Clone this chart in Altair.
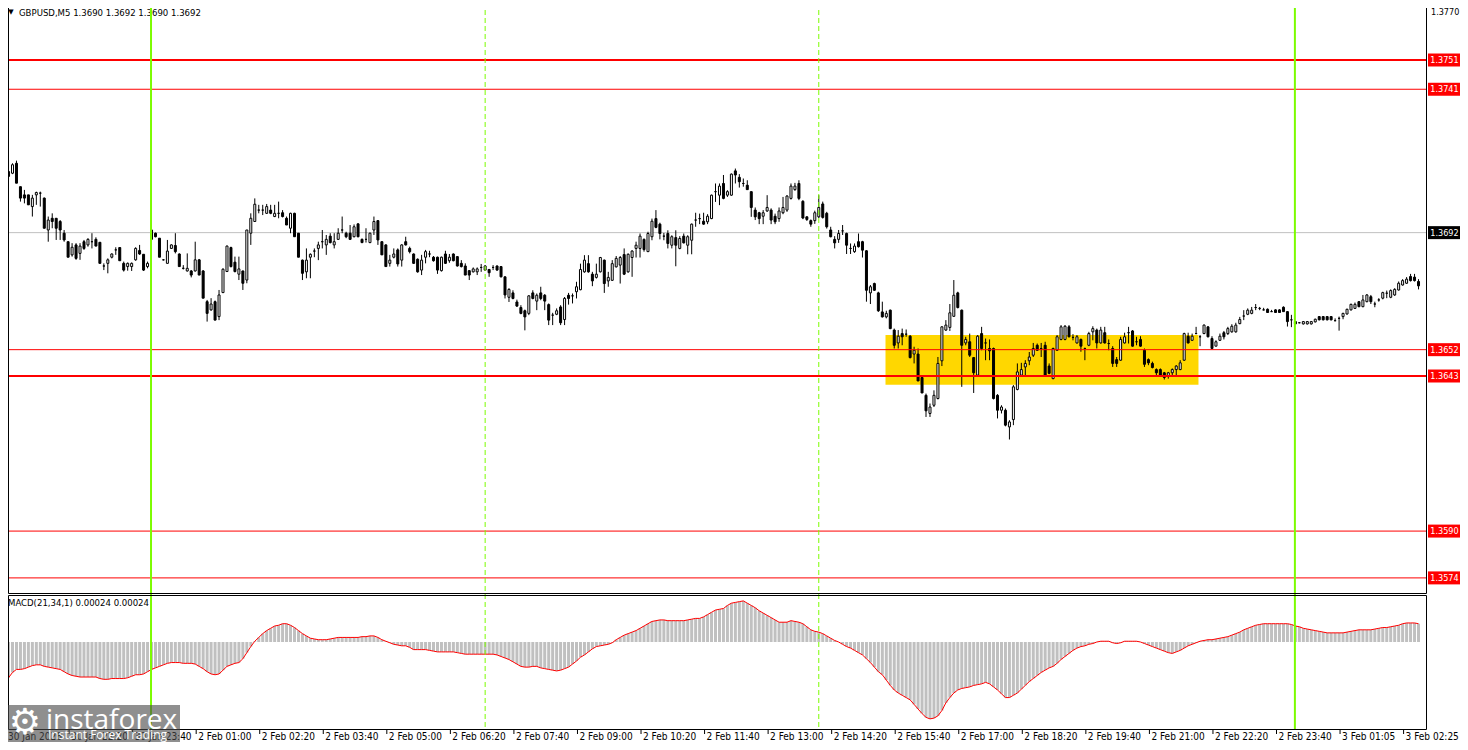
import altair as alt
import pandas as pd

# ---------------- data ----------------
bar_open = [
1.37112,1.37123,1.37157,1.37077,1.37049,1.37049,1.37009,1.37049,1.37055,1.37038,
1.36929,1.36969,1.36969,1.36958,1.36918,1.36889,1.36844,1.36878,1.36849,1.36889,
1.36878,1.36889,1.36897,1.36887,1.36806,1.36815,1.36836,1.36861,1.36869,1.36815,
1.36804,1.36804,1.36827,1.36859,1.36846,1.36804,1.36897,1.36918,1.36901,1.36827,
1.36815,1.36866,1.36876,1.36847,1.36798,1.36789,1.36789,1.36789,1.36827,1.36789,
1.36684,1.36656,1.36684,1.36633,1.36715,1.36787,1.36869,1.36819,1.36778,1.36789,
1.36758,1.36918,1.36958,1.36997,1.36997,1.36986,1.36997,1.36975,1.36986,1.36988,
1.36969,1.36935,1.36986,1.36918,1.36826,1.36786,1.36836,1.36857,1.36866,1.36889,
1.36878,1.36908,1.36878,1.36897,1.36929,1.36918,1.36918,1.36906,1.36950,1.36897,
1.36897,1.36886,1.36929,1.36961,1.36889,1.36878,1.36815,1.36836,1.36861,1.36826,
1.36889,1.36866,1.36847,1.36829,1.36792,1.36836,1.36847,1.36836,1.36836,1.36790,
1.36847,1.36824,1.36847,1.36838,1.36815,1.36806,1.36790,1.36786,1.36786,1.36801,
1.36792,1.36794,1.36801,1.36806,1.36804,1.36769,1.36699,1.36714,1.36683,1.36664,
1.36653,1.36644,1.36714,1.36686,1.36714,1.36706,1.36674,1.36638,1.36641,1.36666,
1.36623,1.36706,1.36704,1.36718,1.36725,1.36786,1.36814,1.36778,1.36767,1.36786,
1.36826,1.36755,1.36757,1.36803,1.36809,1.36845,1.36786,1.36835,1.36866,1.36866,
1.36897,1.36855,1.36906,1.36968,1.36949,1.36908,1.36917,1.36877,1.36903,1.36866,
1.36908,1.36877,1.36894,1.36963,1.36968,1.36959,1.36957,1.36968,1.37060,1.37048,
1.37088,1.37048,1.37048,1.37131,1.37109,1.37088,1.37082,1.37060,1.36997,1.36988,
1.36976,1.36994,1.36997,1.36976,1.36968,1.36988,1.36997,1.37037,1.37067,1.37088,
1.37027,1.36974,1.36961,1.36961,1.36974,1.37018,1.36986,1.36929,1.36897,1.36897,
1.36926,1.36917,1.36866,1.36855,1.36889,1.36889,1.36858,1.36714,1.36746,1.36714,
1.36649,1.36632,1.36655,1.36587,1.36543,1.36575,1.36573,1.36566,1.36505,1.36505,
1.36425,1.36364,1.36302,1.36330,1.36353,1.36482,1.36587,1.36596,1.36634,1.36714,
1.36655,1.36543,1.36547,1.36493,1.36433,1.36575,1.36543,1.36524,1.36524,1.36364,
1.36313,1.36313,1.36256,1.36281,1.36384,1.36433,1.36461,1.36482,1.36501,1.36535,
1.36524,1.36535,1.36464,1.36421,1.36518,1.36555,1.36555,1.36598,1.36562,1.36543,
1.36555,1.36524,1.36535,1.36581,1.36587,1.36543,1.36578,1.36541,1.36524,1.36486,
1.36484,1.36543,1.36578,1.36584,1.36547,1.36555,1.36518,1.36486,1.36473,1.36452,
1.36452,1.36441,1.36430,1.36441,1.36452,1.36452,1.36484,1.36566,1.36552,1.36575,
1.36564,1.36575,1.36598,1.36558,1.36532,1.36552,1.36578,1.36575,1.36581,1.36581,
1.36609,1.36635,1.36641,1.36644,1.36664,1.36661,1.36656,1.36658,1.36650,1.36656,
1.36656,1.36665,1.36650,1.36622,1.36616,1.36612,1.36608,1.36608,1.36608,1.36615,
1.36633,1.36633,1.36633,1.36633,1.36619,1.36627,1.36633,1.36642,1.36656,1.36661,
1.36684,1.36667,1.36684,1.36701,1.36676,1.36690,1.36696,1.36713,1.36699,1.36707,
1.36724,1.36741,1.36747,1.36770,1.36768,1.36753]

bar_high = [
1.37169,1.37157,1.37166,1.37077,1.37066,1.37049,1.37049,1.37060,1.37060,1.37040,
1.36975,1.36986,1.36969,1.36963,1.36929,1.36889,1.36884,1.36884,1.36884,1.36895,
1.36901,1.36918,1.36904,1.36887,1.36815,1.36832,1.36849,1.36870,1.36870,1.36821,
1.36818,1.36818,1.36870,1.36878,1.36846,1.36821,1.36929,1.36920,1.36901,1.36829,
1.36895,1.36880,1.36918,1.36849,1.36809,1.36849,1.36792,1.36889,1.36830,1.36792,
1.36690,1.36696,1.36688,1.36724,1.36798,1.36876,1.36872,1.36838,1.36838,1.36790,
1.36929,1.36986,1.37037,1.37015,1.37015,1.37018,1.37015,1.37015,1.37026,1.36997,
1.36975,1.36988,1.36988,1.36918,1.36828,1.36866,1.36849,1.36866,1.36889,1.36929,
1.36912,1.36918,1.36918,1.36935,1.36975,1.36923,1.36946,1.36948,1.36952,1.36900,
1.36935,1.36920,1.36975,1.36963,1.36890,1.36880,1.36844,1.36866,1.36866,1.36880,
1.36906,1.36872,1.36849,1.36832,1.36844,1.36861,1.36858,1.36840,1.36838,1.36838,
1.36858,1.36847,1.36849,1.36840,1.36826,1.36815,1.36792,1.36801,1.36801,1.36813,
1.36809,1.36796,1.36809,1.36808,1.36806,1.36770,1.36730,1.36723,1.36691,1.36672,
1.36657,1.36706,1.36723,1.36712,1.36735,1.36710,1.36678,1.36646,1.36661,1.36672,
1.36700,1.36714,1.36712,1.36752,1.36814,1.36843,1.36843,1.36786,1.36814,1.36837,
1.36828,1.36786,1.36826,1.36840,1.36840,1.36866,1.36849,1.36860,1.36889,1.36917,
1.36900,1.36923,1.36968,1.36997,1.36954,1.36919,1.36928,1.36911,1.36928,1.36908,
1.36917,1.36911,1.36951,1.36988,1.36985,1.36988,1.36983,1.37050,1.37088,1.37088,
1.37117,1.37065,1.37122,1.37139,1.37120,1.37105,1.37099,1.37060,1.37006,1.36991,
1.36997,1.37048,1.37003,1.36985,1.37006,1.37042,1.37048,1.37088,1.37090,1.37099,
1.37031,1.36976,1.36965,1.36995,1.37048,1.37026,1.36991,1.36940,1.36908,1.36929,
1.36946,1.36920,1.36883,1.36883,1.36917,1.36892,1.36860,1.36741,1.36749,1.36718,
1.36684,1.36653,1.36657,1.36592,1.36587,1.36592,1.36589,1.36570,1.36530,1.36524,
1.36427,1.36370,1.36336,1.36381,1.36495,1.36600,1.36621,1.36676,1.36758,1.36718,
1.36657,1.36564,1.36575,1.36495,1.36570,1.36598,1.36558,1.36555,1.36527,1.36368,
1.36330,1.36319,1.36279,1.36399,1.36473,1.36475,1.36484,1.36512,1.36543,1.36541,
1.36543,1.36547,1.36473,1.36527,1.36570,1.36604,1.36604,1.36604,1.36573,1.36570,
1.36558,1.36527,1.36581,1.36600,1.36592,1.36598,1.36598,1.36555,1.36532,1.36495,
1.36564,1.36578,1.36598,1.36587,1.36564,1.36566,1.36524,1.36490,1.36479,1.36456,
1.36456,1.36444,1.36444,1.36456,1.36467,1.36484,1.36578,1.36578,1.36575,1.36598,
1.36570,1.36606,1.36600,1.36566,1.36552,1.36575,1.36584,1.36598,1.36607,1.36612,
1.36632,1.36655,1.36661,1.36666,1.36676,1.36666,1.36663,1.36661,1.36656,1.36658,
1.36658,1.36668,1.36652,1.36639,1.36618,1.36614,1.36618,1.36618,1.36618,1.36626,
1.36635,1.36635,1.36635,1.36635,1.36627,1.36633,1.36646,1.36660,1.36677,1.36681,
1.36686,1.36707,1.36710,1.36707,1.36684,1.36696,1.36718,1.36722,1.36726,1.36730,
1.36753,1.36761,1.36768,1.36779,1.36779,1.36761]

bar_low = [
1.37100,1.37120,1.37089,1.37026,1.37020,1.37015,1.36975,1.37015,1.37009,1.36935,
1.36889,1.36935,1.36895,1.36895,1.36889,1.36836,1.36838,1.36827,1.36827,1.36861,
1.36872,1.36866,1.36874,1.36815,1.36792,1.36781,1.36832,1.36844,1.36824,1.36787,
1.36790,1.36789,1.36824,1.36844,1.36789,1.36798,1.36889,1.36904,1.36836,1.36825,
1.36815,1.36864,1.36849,1.36804,1.36794,1.36787,1.36767,1.36787,1.36775,1.36696,
1.36616,1.36653,1.36621,1.36621,1.36715,1.36787,1.36801,1.36784,1.36758,1.36724,
1.36747,1.36878,1.36958,1.36986,1.36980,1.36984,1.36983,1.36973,1.36969,1.36972,
1.36946,1.36918,1.36906,1.36836,1.36758,1.36764,1.36764,1.36836,1.36826,1.36866,
1.36844,1.36883,1.36866,1.36895,1.36918,1.36901,1.36895,1.36904,1.36904,1.36884,
1.36886,1.36884,1.36912,1.36878,1.36844,1.36804,1.36804,1.36832,1.36804,1.36804,
1.36876,1.36849,1.36813,1.36783,1.36775,1.36815,1.36836,1.36821,1.36779,1.36787,
1.36813,1.36817,1.36822,1.36804,1.36801,1.36775,1.36758,1.36784,1.36775,1.36786,
1.36790,1.36769,1.36792,1.36790,1.36767,1.36695,1.36683,1.36692,1.36666,1.36641,
1.36586,1.36638,1.36692,1.36655,1.36689,1.36655,1.36604,1.36604,1.36638,1.36604,
1.36604,1.36674,1.36678,1.36695,1.36723,1.36783,1.36783,1.36737,1.36763,1.36784,
1.36714,1.36735,1.36755,1.36801,1.36746,1.36775,1.36783,1.36769,1.36835,1.36835,
1.36855,1.36855,1.36894,1.36935,1.36897,1.36894,1.36866,1.36866,1.36805,1.36863,
1.36883,1.36846,1.36846,1.36940,1.36949,1.36947,1.36949,1.36966,1.37025,1.37014,
1.37034,1.37042,1.37046,1.37088,1.37074,1.37077,1.37067,1.36974,1.36963,1.36949,
1.36949,1.36991,1.36949,1.36949,1.36957,1.36983,1.36991,1.37033,1.37063,1.37031,
1.36966,1.36960,1.36940,1.36950,1.36970,1.36968,1.36934,1.36904,1.36866,1.36885,
1.36912,1.36847,1.36847,1.36851,1.36869,1.36835,1.36684,1.36676,1.36721,1.36649,
1.36630,1.36627,1.36590,1.36524,1.36524,1.36535,1.36564,1.36490,1.36473,1.36413,
1.36372,1.36290,1.36290,1.36324,1.36350,1.36464,1.36584,1.36584,1.36632,1.36661,
1.36393,1.36535,1.36495,1.36372,1.36430,1.36518,1.36484,1.36484,1.36350,1.36285,
1.36302,1.36258,1.36213,1.36262,1.36381,1.36427,1.36430,1.36467,1.36495,1.36516,
1.36495,1.36427,1.36436,1.36419,1.36516,1.36552,1.36552,1.36562,1.36552,1.36541,
1.36513,1.36484,1.36532,1.36552,1.36524,1.36541,1.36541,1.36518,1.36461,1.36461,
1.36482,1.36541,1.36541,1.36530,1.36535,1.36530,1.36461,1.36467,1.36456,1.36433,
1.36430,1.36418,1.36421,1.36433,1.36433,1.36450,1.36482,1.36541,1.36550,1.36573,
1.36532,1.36573,1.36562,1.36521,1.36532,1.36550,1.36555,1.36570,1.36578,1.36578,
1.36607,1.36621,1.36638,1.36641,1.36655,1.36655,1.36654,1.36647,1.36649,1.36647,
1.36647,1.36650,1.36599,1.36597,1.36608,1.36610,1.36606,1.36606,1.36606,1.36613,
1.36620,1.36620,1.36620,1.36620,1.36617,1.36585,1.36624,1.36640,1.36654,1.36659,
1.36665,1.36665,1.36682,1.36676,1.36665,1.36684,1.36692,1.36696,1.36696,1.36704,
1.36722,1.36739,1.36745,1.36753,1.36753,1.36726]

bar_close = [
1.37129,1.37152,1.37089,1.37038,1.37038,1.37015,1.37038,1.37057,1.37055,1.36935,
1.36963,1.36958,1.36935,1.36929,1.36895,1.36836,1.36870,1.36832,1.36874,1.36866,
1.36897,1.36889,1.36874,1.36815,1.36806,1.36827,1.36847,1.36861,1.36824,1.36792,
1.36815,1.36815,1.36866,1.36847,1.36792,1.36815,1.36929,1.36906,1.36836,1.36827,
1.36857,1.36878,1.36855,1.36804,1.36798,1.36798,1.36775,1.36827,1.36775,1.36696,
1.36644,1.36676,1.36621,1.36707,1.36795,1.36874,1.36804,1.36787,1.36796,1.36747,
1.36929,1.36969,1.37017,1.36997,1.36997,1.37009,1.36986,1.36986,1.36986,1.36975,
1.36946,1.36986,1.36906,1.36836,1.36781,1.36826,1.36846,1.36857,1.36878,1.36889,
1.36897,1.36886,1.36889,1.36918,1.36929,1.36906,1.36897,1.36940,1.36906,1.36886,
1.36897,1.36918,1.36958,1.36895,1.36844,1.36804,1.36826,1.36847,1.36813,1.36878,
1.36878,1.36855,1.36815,1.36786,1.36826,1.36855,1.36847,1.36824,1.36792,1.36836,
1.36815,1.36836,1.36824,1.36806,1.36804,1.36775,1.36775,1.36796,1.36796,1.36801,
1.36806,1.36783,1.36801,1.36792,1.36769,1.36707,1.36726,1.36695,1.36669,1.36644,
1.36632,1.36704,1.36695,1.36706,1.36695,1.36686,1.36621,1.36638,1.36653,1.36612,
1.36695,1.36695,1.36704,1.36735,1.36794,1.36826,1.36786,1.36755,1.36778,1.36835,
1.36746,1.36767,1.36814,1.36832,1.36835,1.36778,1.36846,1.36857,1.36877,1.36908,
1.36862,1.36917,1.36959,1.36938,1.36917,1.36908,1.36883,1.36906,1.36877,1.36900,
1.36885,1.36906,1.36949,1.36963,1.36968,1.36949,1.36976,1.37048,1.37060,1.37079,
1.37037,1.37060,1.37120,1.37117,1.37094,1.37088,1.37067,1.37006,1.36974,1.36968,
1.36988,1.37006,1.36963,1.36957,1.36994,1.37006,1.37045,1.37079,1.37079,1.37037,
1.36970,1.36965,1.36949,1.36988,1.37006,1.36972,1.36940,1.36906,1.36885,1.36917,
1.36926,1.36877,1.36866,1.36874,1.36872,1.36860,1.36723,1.36735,1.36723,1.36653,
1.36632,1.36644,1.36592,1.36535,1.36566,1.36564,1.36573,1.36493,1.36518,1.36413,
1.36372,1.36311,1.36324,1.36364,1.36473,1.36598,1.36604,1.36646,1.36706,1.36664,
1.36535,1.36555,1.36501,1.36441,1.36566,1.36524,1.36543,1.36516,1.36353,1.36313,
1.36324,1.36262,1.36273,1.36393,1.36444,1.36452,1.36473,1.36495,1.36524,1.36518,
1.36524,1.36433,1.36439,1.36524,1.36564,1.36598,1.36600,1.36564,1.36562,1.36564,
1.36532,1.36524,1.36575,1.36592,1.36543,1.36587,1.36543,1.36541,1.36473,1.36473,
1.36555,1.36564,1.36578,1.36532,1.36547,1.36532,1.36470,1.36475,1.36459,1.36441,
1.36433,1.36425,1.36441,1.36452,1.36464,1.36475,1.36575,1.36543,1.36566,1.36575,
1.36564,1.36604,1.36564,1.36524,1.36547,1.36566,1.36564,1.36592,1.36600,1.36604,
1.36623,1.36635,1.36655,1.36655,1.36664,1.36661,1.36656,1.36647,1.36650,1.36647,
1.36647,1.36650,1.36616,1.36622,1.36608,1.36612,1.36616,1.36616,1.36616,1.36624,
1.36622,1.36622,1.36622,1.36622,1.36619,1.36627,1.36644,1.36658,1.36675,1.36675,
1.36667,1.36690,1.36707,1.36684,1.36676,1.36690,1.36715,1.36713,1.36722,1.36726,
1.36747,1.36756,1.36761,1.36756,1.36756,1.36738]

# MACD(21,34,1) value per bar, in units of 0.00001
macd_e5 = [
-47,-40,-36,-36,-35,-33,-31,-30,-30,-32,
-33,-34,-35,-36,-39,-42,-44,-45,-46,-46,
-46,-46,-46,-48,-49,-49,-48,-48,-48,-48,
-47,-45,-43,-43,-42,-39,-36,-34,-32,-30,
-28,-27,-27,-27,-28,-28,-28,-29,-32,-35,
-39,-42,-43,-42,-37,-32,-30,-28,-27,-22,
-14,-6,1,6,11,15,18,21,22,24,
24,22,19,15,11,8,5,4,3,3,
3,4,5,6,6,6,6,6,6,7,
7,8,8,6,3,1,-1,-3,-4,-5,
-5,-7,-10,-10,-10,-10,-11,-12,-13,-13,
-13,-13,-13,-14,-15,-16,-16,-16,-16,-16,
-16,-16,-16,-17,-19,-21,-23,-26,-29,-32,
-33,-33,-32,-32,-34,-35,-36,-37,-38,-37,
-35,-33,-29,-25,-20,-17,-13,-9,-6,-5,
-4,-3,-1,3,6,9,11,13,15,18,
21,24,27,28,29,29,28,28,28,28,
28,29,30,31,31,33,36,39,42,43,
44,48,51,52,53,54,51,48,45,41,
38,35,32,29,26,26,26,28,27,26,
24,20,16,14,13,11,8,5,2,0,
-3,-6,-8,-11,-14,-17,-22,-27,-33,-39,
-43,-50,-57,-63,-67,-70,-73,-76,-82,-88,
-94,-99,-101,-100,-97,-90,-80,-73,-67,-63,
-61,-60,-59,-57,-56,-55,-53,-55,-59,-63,
-68,-73,-73,-70,-67,-62,-57,-52,-48,-44,
-40,-37,-34,-32,-28,-23,-19,-15,-11,-8,
-6,-5,-3,-2,0,1,1,1,-1,-2,
-1,1,1,1,1,0,-2,-4,-6,-8,
-10,-12,-14,-15,-13,-11,-8,-5,-3,-1,
1,2,3,3,4,5,6,7,9,11,
13,16,18,20,22,23,24,24,24,24,
24,24,24,23,21,20,18,17,16,15,
14,13,12,12,12,12,12,13,14,15,
16,16,16,16,17,18,19,19,20,21,
22,24,25,25,25,24]

level_price = [1.3751, 1.3741, 1.3652, 1.3643, 1.3590, 1.3574]
level_width = [2, 1, 1, 2, 1, 1]
bid_price = [1.3692]
zone_start, zone_end = 220.8, 299.6
zone_low, zone_high = 1.3640, 1.3657
price_ticks = [1.3755, 1.3740, 1.3725, 1.3710, 1.3695, 1.3680, 1.3665,
               1.3650, 1.3635, 1.3620, 1.3605, 1.3590, 1.3575]
top_tick_label = "1.3770"
macd_ticks = [0.00054, 0.0, -0.00101]
session_solid = [36, 324]
session_dashed = [120, 204]
time_idx = [16, 32, 48, 64, 80, 96, 112, 128, 144, 160, 176, 192, 208, 224,
            240, 256, 272, 288, 304, 320, 336, 352]
time_lbl = ["30 Jan 22:20", "30 Jan 23:40", "2 Feb 01:00", "2 Feb 02:20",
            "2 Feb 03:40", "2 Feb 05:00", "2 Feb 06:20", "2 Feb 07:40",
            "2 Feb 09:00", "2 Feb 10:20", "2 Feb 11:40", "2 Feb 13:00",
            "2 Feb 14:20", "2 Feb 15:40", "2 Feb 17:00", "2 Feb 18:20",
            "2 Feb 19:40", "2 Feb 21:00", "2 Feb 22:20", "2 Feb 23:40",
            "3 Feb 01:05", "3 Feb 02:25"]
first_time_lbl = "30 Jan 2026"
title_txt = "GBPUSD,M5  1.3690 1.3692 1.3690 1.3692"
macd_txt = "MACD(21,34,1) 0.00024 0.00024"

# ---------------- build ----------------
n = len(bar_close)
assert all(len(a) == n for a in (bar_open, bar_high, bar_low, macd_e5))

W, H = 1418, 727
FONT = "DejaVu Sans Condensed, Liberation Sans, Arial, sans-serif"

df = pd.DataFrame({
    "i": list(range(n)), "o": bar_open, "h": bar_high, "l": bar_low, "c": bar_close,
    "m": [v * 1e-5 for v in macd_e5],
})
df["dir"] = ["up" if c >= o else "down" for o, c in zip(bar_open, bar_close)]
df["z"] = 0.0

xs = alt.Scale(domain=[1.125, 355.625], range=[0, W], nice=False, zero=False)
ys = alt.Scale(domain=[1.3568838, 1.3770822], range=[591, 0], nice=False, zero=False)
ms = alt.Scale(domain=[-0.0011428, 0.00061738], range=[727, 593], nice=False, zero=False)


def X(f="i"):
    return alt.X(f"{f}:Q", scale=xs, axis=None)


def YP(f, axis=None):
    return alt.Y(f"{f}:Q", scale=ys, axis=axis)


price_axis = alt.Axis(orient="right", values=price_ticks, format=".4f", tickSize=4,
                      tickColor="black", labelPadding=1, labelFont=FONT, labelFontSize=9,
                      labelColor="black", domain=False, grid=False, title=None,
                      labelFlush=False, labelOverlap=False)
macd_axis = alt.Axis(orient="right", values=macd_ticks, tickSize=3, tickColor="black",
                     labelPadding=0, labelFont=FONT, labelFontSize=8, labelColor="black",
                     domain=False, grid=False, title=None, labelFlush=False, labelOverlap=False,
                     labelExpr="datum.value > 0.0004 ? '0.00054' : (datum.value < -0.0009 ? '-0.00101' : '0.00')")

one = pd.DataFrame({"k": [0]})

zone_df = pd.DataFrame({"i0": [zone_start], "i1": [zone_end], "p0": [zone_low], "p1": [zone_high]})
zone_ch = alt.Chart(zone_df).mark_rect(color="#FFD700").encode(
    x=X("i0"), x2="i1:Q", y=YP("p0", price_axis), y2="p1:Q")

bid_df = pd.DataFrame({"p": bid_price})
bid_ch = alt.Chart(bid_df).mark_rule(color="#C0C0C0", strokeWidth=1).encode(y=YP("p"))

wick = alt.Chart(df).mark_rule(color="black", strokeWidth=1, clip=True).encode(
    x=X(), y=YP("l"), y2="h:Q")
body = alt.Chart(df).mark_bar(size=2, stroke="black", strokeWidth=1, clip=True).encode(
    x=X(), y=YP("o"), y2="c:Q",
    fill=alt.Fill("dir:N", scale=alt.Scale(domain=["up", "down"], range=["white", "black"]), legend=None))

lev_df = pd.DataFrame({"p": level_price, "w": level_width})
levels = alt.Chart(lev_df).mark_rule(color="#FF0000").encode(
    y=YP("p"), strokeWidth=alt.StrokeWidth("w:Q", scale=None, legend=None))

lab_df = pd.DataFrame({
    "p": level_price + bid_price,
    "t": [f"{p:.4f}" for p in level_price + bid_price],
    "col": ["#FF0000"] * len(level_price) + ["#000000"],
})
BOX = "M-1,-0.406L1,-0.406L1,0.406L-1,0.406Z"
boxes = alt.Chart(lab_df).mark_point(shape=BOX, size=1024, filled=True, opacity=1, strokeWidth=0).encode(
    x=alt.value(1436), y=YP("p"), color=alt.Color("col:N", scale=None))
boxtxt = alt.Chart(lab_df).mark_text(color="white", font=FONT, fontSize=9, align="center",
                                     baseline="middle").encode(x=alt.value(1436.5), y=YP("p"), text="t:N")

top_lbl = alt.Chart(pd.DataFrame({"t": [top_tick_label]})).mark_text(
    font=FONT, fontSize=9, align="left", baseline="middle", color="black").encode(
    x=alt.value(1423), y=alt.value(10), text="t:N")

tri = alt.Chart(pd.DataFrame({"t": ["\u25BC"]})).mark_text(
    font="DejaVu Sans", fontSize=7, align="center", baseline="middle", color="black").encode(
    x=alt.value(3), y=alt.value(10), text="t:N")
title = alt.Chart(pd.DataFrame({"t": [title_txt]})).mark_text(
    font=FONT, fontSize=9.5, align="left", baseline="middle", color="black").encode(
    x=alt.value(11), y=alt.value(10.5), text="t:N")

main = alt.layer(zone_ch, bid_ch, wick, body, levels, boxes, boxtxt, top_lbl, tri, title)

# ---- MACD panel ----
hist = alt.Chart(df).mark_bar(size=3, color="#C0C0C0", clip=True).encode(
    x=X(), y=alt.Y("m:Q", scale=ms, axis=macd_axis), y2="z:Q")
mline = alt.Chart(df).mark_line(color="#FF0000", strokeWidth=1, clip=True).encode(
    x=X(), y=alt.Y("m:Q", scale=ms, axis=None))
mtitle = alt.Chart(pd.DataFrame({"t": [macd_txt]})).mark_text(
    font=FONT, fontSize=9.5, align="left", baseline="middle", color="black").encode(
    x=alt.value(0), y=alt.value(601), text="t:N")

vs_df = pd.DataFrame({"i": session_solid})
vd_df = pd.DataFrame({"i": session_dashed})
vsolid = alt.Chart(vs_df).mark_rule(color="#7CFC00", strokeWidth=2, xOffset=-0.5).encode(
    x=X(), y=alt.value(0), y2=alt.value(H))
vdash = alt.Chart(vd_df).mark_rule(color="#7CFC00", strokeWidth=1, strokeDash=[5, 3]).encode(
    x=X(), y=alt.value(0), y2=alt.value(H))

frame_main = alt.Chart(one).mark_rect(fillOpacity=0, stroke="black", strokeWidth=1).encode(
    x=alt.value(0.5), x2=alt.value(W + 0.5), y=alt.value(0.5), y2=alt.value(591.5))
frame_macd = alt.Chart(one).mark_rect(fillOpacity=0, stroke="black", strokeWidth=1).encode(
    x=alt.value(0.5), x2=alt.value(W + 0.5), y=alt.value(593.5), y2=alt.value(727.5))

t_df = pd.DataFrame({"i": time_idx, "t": time_lbl})
ticks = alt.Chart(t_df).mark_rule(color="black", strokeWidth=1, xOffset=-3).encode(
    x=X(), y=alt.value(728), y2=alt.value(732))
tlabels = alt.Chart(t_df).mark_text(font=FONT, fontSize=10, align="left", baseline="middle",
                                     dx=-1, color="black").encode(x=X(), y=alt.value(735), text="t:N")
first_lbl = alt.Chart(pd.DataFrame({"t": [first_time_lbl]})).mark_text(
    font=FONT, fontSize=10, align="left", baseline="middle", color="black").encode(
    x=alt.value(0), y=alt.value(735), text="t:N")

# watermark logo
logo_box = alt.Chart(one).mark_rect(color="#4a4a4a", opacity=0.62).encode(
    x=alt.value(0), x2=alt.value(172), y=alt.value(703), y2=alt.value(740))
logo_gear = alt.Chart(pd.DataFrame({"t": ["\u2699"]})).mark_text(
    font="DejaVu Sans", fontSize=36, align="center", baseline="middle", color="white").encode(
    x=alt.value(17), y=alt.value(721), text="t:N")
logo_big = alt.Chart(pd.DataFrame({"t": ["instaforex"]})).mark_text(
    font="Open Sans", fontSize=28, align="left", baseline="alphabetic", color="white").encode(
    x=alt.value(38), y=alt.value(727), text="t:N")
logo_small = alt.Chart(pd.DataFrame({"t": ["Instant Forex Trading"]})).mark_text(
    font="Open Sans", fontSize=12, align="left", baseline="alphabetic", color="white").encode(
    x=alt.value(40), y=alt.value(737), text="t:N")

macd = alt.layer(hist, mline, mtitle, vdash, vsolid, frame_main, frame_macd, ticks, tlabels,
                 first_lbl, logo_box, logo_gear, logo_big, logo_small)

# svg is 1452 x 734 px, so the page with its 8px margins is exactly 1468 x 750
chart = alt.layer(main, macd).resolve_scale(y="independent").properties(
    width=W, height=H,
    autosize=alt.AutoSizeParams(type="none"),
    padding={"left": 0, "top": -6, "right": 34, "bottom": 13},
    background="white",
).configure_view(strokeWidth=0)

chart.save("out.html", embed_options={"renderer": "svg", "actions": False})
